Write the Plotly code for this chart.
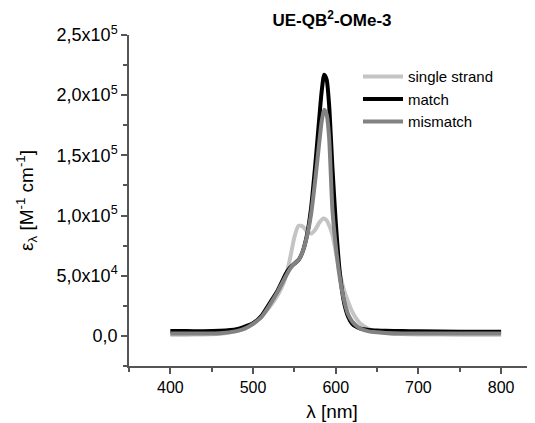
import plotly.graph_objects as go

# wavelengths (nm) and molar extinction values
wl_single = [400, 420, 440, 460, 480, 490, 500, 510, 520, 530, 537, 540, 545, 550, 555, 560, 565, 570, 575, 580, 585, 589, 592, 596, 600, 605, 610, 614, 620, 626, 630, 642, 650, 660, 680, 700, 750, 800]
eps_single = [1000, 1000, 1200, 1800, 4000, 6500, 10000, 16000, 24000, 34000, 44000, 50000, 65000, 82000, 91500, 91000, 87000, 85000, 88000, 94000, 97500, 96000, 92000, 84000, 70000, 52000, 38000, 30000, 20000, 13300, 10000, 5000, 3500, 2500, 1500, 1200, 1000, 1000]

wl_match = [400, 420, 440, 460, 480, 490, 500, 510, 520, 530, 540, 545, 550, 555, 560, 565, 570, 575, 580, 583, 586, 589, 592, 596, 600, 605, 610, 615, 620, 625, 630, 640, 650, 660, 680, 700, 750, 800]
eps_match = [4000, 4000, 3800, 4200, 5500, 7700, 10500, 16500, 27000, 38000, 52000, 57000, 60000, 63000, 70000, 83000, 105000, 140000, 180000, 203000, 217000, 213000, 192000, 140000, 95000, 52000, 28000, 16000, 10000, 7500, 6000, 5000, 4500, 4200, 4000, 3800, 3500, 3500]

wl_mismatch = [400, 420, 440, 460, 480, 490, 500, 510, 520, 530, 540, 545, 550, 555, 560, 565, 570, 575, 580, 583, 586, 589, 592, 596, 600, 605, 610, 615, 620, 625, 630, 640, 650, 660, 680, 700, 750, 800]
eps_mismatch = [2000, 2000, 2000, 2200, 4000, 6000, 10000, 15500, 25500, 37000, 50000, 56000, 60000, 63000, 70000, 82000, 100000, 128000, 160000, 178000, 188000, 184000, 165000, 105000, 75000, 48000, 30000, 18000, 12000, 8500, 6000, 3800, 3000, 2500, 2000, 2000, 2000, 2000]

series_names = ["single strand", "match", "mismatch"]
series_colors = ["#c4c4c4", "#000000", "#828282"]

y_tickvals = [0, 50000, 100000, 150000, 200000, 250000]
y_ticktext = ["0,0", "5,0x10<sup>4</sup>", "1,0x10<sup>5</sup>", "1,5x10<sup>5</sup>", "2,0x10<sup>5</sup>", "2,5x10<sup>5</sup>"]
x_tickvals = [400, 500, 600, 700, 800]

fig = go.Figure()
for name, color, xs, ys in zip(series_names, series_colors,
                               [wl_single, wl_match, wl_mismatch],
                               [eps_single, eps_match, eps_mismatch]):
    fig.add_trace(go.Scatter(x=xs, y=ys, mode="lines", name=name,
                             line=dict(color=color, width=4, shape="spline", smoothing=0.6)))

font_family = "Liberation Sans, Arial, sans-serif"
fig.update_layout(
    width=527, height=415,
    margin=dict(l=121, r=0, t=27, b=57, autoexpand=False),
    paper_bgcolor="white", plot_bgcolor="white",
    font=dict(family=font_family, size=17, color="#000"),
    title=dict(text="<b>UE-QB<sup>2</sup>-OMe-3</b>", x=0.5, xanchor="center",
               xref="paper", yref="container", y=0.97, yanchor="middle", font=dict(size=17)),
    showlegend=True,
    legend=dict(x=0.564, y=0.924, xanchor="left", yanchor="top",
                bgcolor="rgba(0,0,0,0)", font=dict(size=15),
                itemwidth=40, tracegroupgap=0),
)
fig.update_xaxes(
    range=[350, 841], showgrid=False, zeroline=False, automargin=False,
    showline=True, linecolor="#555", linewidth=1.5,
    tickmode="array", tickvals=x_tickvals, ticks="outside", ticklen=6,
    tickcolor="#555", tickwidth=1.5, tickfont=dict(size=16),
    minor=dict(tick0=350, dtick=50, ticks="outside", ticklen=4, tickcolor="#555", tickwidth=1.5),
    title=dict(text="λ [nm]", font=dict(size=19), standoff=10),
)
fig.update_yaxes(
    range=[-25000, 250000], showgrid=False, zeroline=False, automargin=False,
    showline=True, linecolor="#555", linewidth=1.5,
    tickmode="array", tickvals=y_tickvals, ticktext=y_ticktext,
    ticks="outside", ticklen=6, tickcolor="#555", tickwidth=1.5, tickfont=dict(size=18),
    minor=dict(tick0=0, dtick=25000, ticks="outside", ticklen=4, tickcolor="#555", tickwidth=1.5),
    title=dict(text="ε<sub>λ</sub> [M<sup>-1</sup> cm<sup>-1</sup>]", font=dict(size=19), standoff=18),
)

fig.write_html("out.html")
